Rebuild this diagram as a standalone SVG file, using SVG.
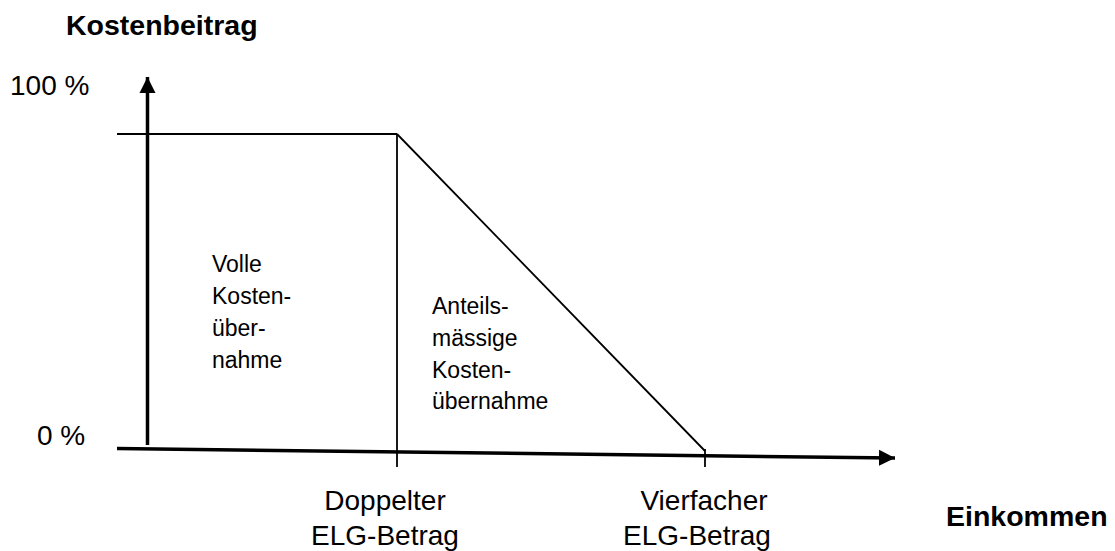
<svg xmlns="http://www.w3.org/2000/svg" width="1115" height="551" viewBox="0 0 1115 551">
<style>
.t{font-family:"Liberation Sans",Arial,sans-serif;fill:#000}
.b{font-weight:bold;font-size:28.5px}
.n{font-size:28px}
.s{font-size:23px}
.ax{stroke:#000;stroke-width:3.5;fill:none}
.ln{stroke:#000;stroke-width:1.8;fill:none}
</style>
<defs>
<marker id="ah" markerUnits="userSpaceOnUse" markerWidth="18" markerHeight="18" refX="16" refY="8" orient="auto" viewBox="0 0 18 16">
<path d="M0,0 L16,8 L0,16 Z" fill="#000"/>
</marker>
</defs>
<rect width="1115" height="551" fill="#fff"/>
<g id="connectors">
<line class="ax" x1="147.5" y1="445" x2="147.5" y2="77" marker-end="url(#ah)"/>
<line class="ax" x1="117" y1="448.5" x2="895" y2="458" marker-end="url(#ah)"/>
<line class="ln" x1="117" y1="134" x2="397" y2="134"/>
<line class="ln" x1="397" y1="134" x2="397" y2="467"/>
<line class="ln" x1="397" y1="134" x2="705" y2="451"/>
<line class="ln" x1="705" y1="449" x2="705" y2="467"/>
</g>
<g id="axis-labels">
<text class="t b" x="66" y="35">Kostenbeitrag</text>
<text class="t n" x="10" y="95">100 %</text>
<text class="t n" x="37" y="445">0 %</text>
<text class="t b" x="946" y="526">Einkommen</text>
</g>
<g id="tick-doppelt">
<text class="t n" text-anchor="middle" x="385" y="510">Doppelter</text>
<text class="t n" text-anchor="middle" x="385" y="545">ELG-Betrag</text>
</g>
<g id="tick-vierfach">
<text class="t n" text-anchor="middle" x="704" y="510">Vierfacher</text>
<text class="t n" text-anchor="middle" x="697" y="545">ELG-Betrag</text>
</g>
<g id="region-voll">
<text class="t s" x="212" y="272">Volle</text>
<text class="t s" x="212" y="304">Kosten-</text>
<text class="t s" x="212" y="336">über-</text>
<text class="t s" x="212" y="368">nahme</text>
</g>
<g id="region-anteil">
<text class="t s" x="432" y="314">Anteils-</text>
<text class="t s" x="432" y="346">mässige</text>
<text class="t s" x="432" y="378">Kosten-</text>
<text class="t s" x="432" y="409">übernahme</text>
</g>
</svg>
